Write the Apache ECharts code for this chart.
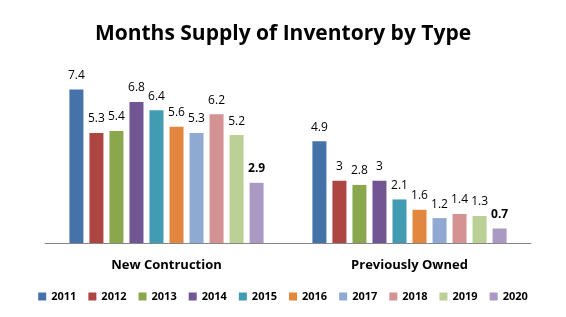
<!DOCTYPE html>
<html lang="en">
<head>
    <meta charset="UTF-8">
    <title>Months Supply of Inventory by Type</title>
    <script src="https://cdn.jsdelivr.net/npm/echarts@6/dist/echarts.min.js"></script>
    <style>
        body { margin: 0; background: #fff; }
    </style>
</head>
<body>
    <div id="app" style="width:566px;height:317px;"></div>
    <script>
        var categories = ['New Contruction', 'Previously Owned'];
        var years = ['2011', '2012', '2013', '2014', '2015', '2016', '2017', '2018', '2019', '2020'];
        var newConstruction = [7.4, 5.3, 5.4, 6.8, 6.4, 5.6, 5.3, 6.2, 5.2, 2.9];
        var previouslyOwned = [4.9, 3, 2.8, 3, 2.1, 1.6, 1.2, 1.4, 1.3, 0.7];
        var colors = ['#4672aa', '#ad4543', '#8ba74e', '#725693', '#409bb3', '#e3873e',
            '#8fa9d3', '#d49292', '#bad097', '#a999c3'];

        var myChart = echarts.init(document.getElementById('app'));

        var series = [];
        for (var i = 0; i < years.length; i++) {
            var last = i == years.length - 1;
            series.push({
                name: years[i],
                type: 'bar',
                data: [newConstruction[i], previouslyOwned[i]],
                barWidth: 14,
                barGap: '43%',
                itemStyle: { color: colors[i] },
                label: {
                    show: true,
                    position: 'top',
                    distance: 8,
                    color: '#000',
                    fontSize: 12,
                    fontWeight: last ? 'bold' : 'normal',
                    fontFamily: 'Open Sans'
                }
            });
        }

        var option = {
            animation: false,
            color: colors,
            title: {
                text: 'Months Supply of Inventory by Type',
                left: 'center',
                top: 19,
                textStyle: {
                    fontSize: 21,
                    fontWeight: 'bold',
                    color: '#000',
                    fontFamily: 'Open Sans'
                }
            },
            legend: {
                bottom: 10,
                left: 'center',
                itemWidth: 8,
                itemHeight: 8,
                itemGap: 12,
                icon: 'rect',
                textStyle: {
                    fontSize: 11,
                    fontWeight: 'bold',
                    color: '#000',
                    fontFamily: 'Open Sans'
                }
            },
            grid: {
                left: 45,
                right: 35,
                top: 77,
                bottom: 74
            },
            xAxis: {
                type: 'category',
                data: categories,
                axisLine: { lineStyle: { color: '#868686' } },
                axisTick: { show: false },
                axisLabel: {
                    margin: 16,
                    color: '#000',
                    fontSize: 13,
                    fontWeight: 'bold',
                    fontFamily: 'Open Sans'
                }
            },
            yAxis: {
                type: 'value',
                min: 0,
                max: 8,
                show: false
            },
            series: series
        };
        myChart.setOption(option);
    </script>
</body>
</html>
